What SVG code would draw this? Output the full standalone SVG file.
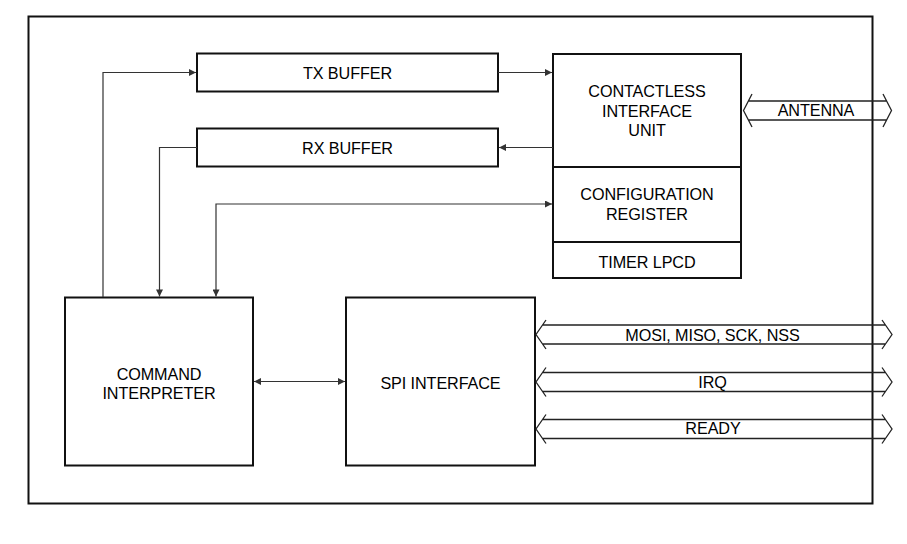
<svg xmlns="http://www.w3.org/2000/svg" width="907" height="544" viewBox="0 0 907 544">
<defs>
<style>
.box{fill:#fff;stroke:#111;stroke-width:2}
.wire{fill:none;stroke:#333;stroke-width:1.2}
.bus{fill:none;stroke:#222;stroke-width:1.3;stroke-linejoin:miter}
text{font-family:"Liberation Sans",Arial,sans-serif;font-size:16.2px;fill:#000;text-anchor:middle;letter-spacing:-0.1px}
</style>
<marker id="ah" viewBox="0 0 10 10" refX="10" refY="5" markerWidth="8" markerHeight="7" markerUnits="userSpaceOnUse" orient="auto-start-reverse">
<path d="M0,0 L10,5 L0,10 Z" fill="#333"/>
</marker>
</defs>
<rect id="outer" x="28.5" y="16.5" width="844" height="487" fill="#fff" stroke="#111" stroke-width="2"/>
<g id="tx-buffer">
<rect class="box" x="197" y="53.5" width="301" height="38"/>
<text x="347.5" y="79">TX BUFFER</text>
</g>
<g id="rx-buffer">
<rect class="box" x="197" y="128.5" width="301" height="38"/>
<text x="347.5" y="153.5">RX BUFFER</text>
</g>
<g id="contactless">
<rect class="box" x="553" y="54" width="188" height="113"/>
<text x="647" y="97">CONTACTLESS</text>
<text x="647" y="116.5">INTERFACE</text>
<text x="647" y="136">UNIT</text>
</g>
<g id="config-register">
<rect class="box" x="553" y="167" width="188" height="75"/>
<text x="647" y="200">CONFIGURATION</text>
<text x="647" y="219.5">REGISTER</text>
</g>
<g id="timer-lpcd">
<rect class="box" x="553" y="242" width="188" height="36"/>
<text x="647" y="267.5">TIMER LPCD</text>
</g>
<g id="command-interpreter">
<rect class="box" x="65" y="297.5" width="188" height="168"/>
<text x="159" y="379.5">COMMAND</text>
<text x="159" y="399">INTERPRETER</text>
</g>
<g id="spi-interface">
<rect class="box" x="346" y="297.5" width="189" height="168"/>
<text x="440.5" y="388.5">SPI INTERFACE</text>
</g>
<g id="connectors">
<path class="wire" d="M103,297 V72.5 H196" marker-end="url(#ah)"/>
<path class="wire" d="M498,72.5 H552" marker-end="url(#ah)"/>
<path class="wire" d="M553,147.5 H499" marker-end="url(#ah)"/>
<path class="wire" d="M197,147.5 H159.5 V296.5" marker-end="url(#ah)"/>
<path class="wire" d="M552,204 H216 V296.5" marker-start="url(#ah)" marker-end="url(#ah)"/>
<path class="wire" d="M254,381.5 H345" marker-start="url(#ah)" marker-end="url(#ah)"/>
<path class="bus" d="M752,94 L743.5,110.5 L752,127 M748.5,101 H886.5 M748.5,120 H886.5 M883,94 L891.5,110.5 L883,127"/>
<path class="bus" d="M546,320 L536,334.5 L546,349 M542.5,325 H885.5 M542.5,344 H885.5 M882,320 L892,334.5 L882,349"/>
<path class="bus" d="M546,367.5 L536,382 L546,396.5 M542.5,372.5 H885.5 M542.5,391.5 H885.5 M882,367.5 L892,382 L882,396.5"/>
<path class="bus" d="M546,414.5 L536,429 L546,443.5 M542.5,419.5 H885.5 M542.5,438.5 H885.5 M882,414.5 L892,429 L882,443.5"/>
<text x="816" y="116">ANTENNA</text>
<text x="712.5" y="340.5">MOSI, MISO, SCK, NSS</text>
<text x="712.5" y="387.5">IRQ</text>
<text x="713" y="434">READY</text>
</g>
</svg>
